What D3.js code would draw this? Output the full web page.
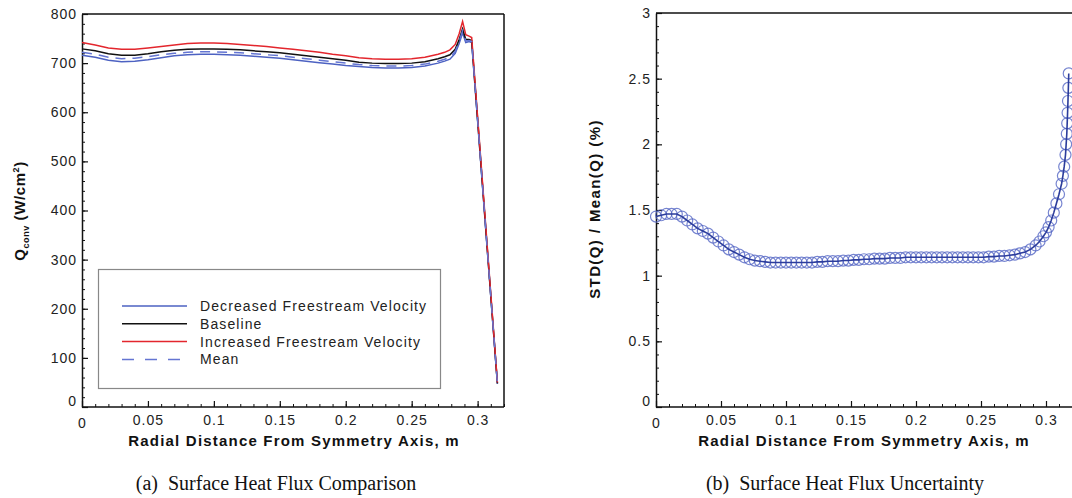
<!DOCTYPE html>
<html>
<head>
<meta charset="utf-8">
<script src="https://cdn.jsdelivr.net/npm/d3@7"></script>
<style>
  body { margin: 0; background: #fff; }
  svg { display: block; font-family: "Liberation Sans", Arial, sans-serif; }
  .tick text { font-size: 14px; fill: #222; letter-spacing: 1px; }
  .axis path, .axis line { stroke: #111; }
  .axis-title { font-size: 15px; font-weight: bold; fill: #111; letter-spacing: 1.2px; }
  .caption { font-family: "Liberation Serif", "Times New Roman", serif; font-size: 20px; fill: #111; }
  .legend text { font-size: 14px; fill: #222; letter-spacing: 1.1px; }
</style>
</head>
<body>
<svg id="chart" width="1072" height="498"></svg>
<script>
// (a) surface heat flux, W/cm^2
var xA = [0, 0.01, 0.02, 0.03, 0.04, 0.05, 0.06, 0.07, 0.08, 0.09, 0.10, 0.11, 0.12, 0.13, 0.14, 0.15, 0.16, 0.17, 0.18, 0.19, 0.20,
  0.21, 0.22, 0.23, 0.24, 0.25, 0.26, 0.27, 0.275, 0.279, 0.283, 0.286, 0.2886, 0.291, 0.2935, 0.2955, 0.300, 0.305, 0.310, 0.315];
var qDecreased = [716, 712, 706, 703, 704, 707, 711, 715, 717, 718, 718, 717, 716, 714, 712, 710, 707, 704, 701, 698, 695,
  693, 691, 690, 690, 691, 694, 700, 704, 708, 720, 740, 762, 742, 744, 742, 582, 402, 224, 47];
var qBaseline = [729, 725, 719, 716, 716, 719, 723, 726, 728, 729, 729, 728, 727, 725, 723, 721, 718, 715, 712, 709, 706,
  702, 700, 699, 699, 700, 703, 709, 713, 717, 728, 748, 770, 748, 748, 746, 585, 405, 226, 48];
var qIncreased = [742, 737, 731, 728, 728, 731, 734, 737, 740, 741, 741, 740, 738, 736, 734, 731, 728, 725, 722, 718, 715,
  711, 709, 708, 708, 709, 712, 718, 722, 727, 738, 760, 785, 758, 755, 752, 590, 410, 230, 50];
var qMean = [722, 718, 712, 709, 710, 713, 717, 720, 722, 723, 723, 722, 721, 719, 717, 715, 712, 709, 706, 703, 700,
  697, 695, 694, 694, 695, 698, 704, 708, 712, 724, 744, 766, 745, 746, 744, 584, 404, 225, 48];

// (b) STD(Q)/Mean(Q), %
var xB = [0, 0.004, 0.008, 0.012, 0.016, 0.020, 0.024, 0.028, 0.032, 0.036, 0.040, 0.044, 0.048, 0.052, 0.056, 0.060,
  0.064, 0.068, 0.072, 0.076, 0.080, 0.084, 0.088, 0.092, 0.096, 0.100, 0.104, 0.108, 0.112, 0.116, 0.120,
  0.124, 0.128, 0.132, 0.136, 0.140, 0.144, 0.148, 0.152, 0.156, 0.160, 0.164, 0.168, 0.172, 0.176, 0.180,
  0.184, 0.188, 0.192, 0.196, 0.200, 0.204, 0.208, 0.212, 0.216, 0.220, 0.224, 0.228, 0.232, 0.236, 0.240,
  0.244, 0.248, 0.252, 0.256, 0.260, 0.264, 0.268, 0.272, 0.276, 0.280,
  0.284, 0.288, 0.292, 0.295, 0.298, 0.300, 0.302, 0.304, 0.306, 0.308, 0.310, 0.312, 0.313, 0.314, 0.315,
  0.3155, 0.316, 0.3163, 0.3166, 0.3169, 0.3172, 0.3175];
var stdRatio = [1.45, 1.46, 1.47, 1.47, 1.47, 1.45, 1.42, 1.39, 1.36, 1.34, 1.32, 1.29, 1.26, 1.23, 1.20, 1.18,
  1.16, 1.14, 1.125, 1.115, 1.11, 1.105, 1.10, 1.10, 1.10, 1.10, 1.10, 1.10, 1.10, 1.10, 1.10,
  1.105, 1.105, 1.11, 1.11, 1.11, 1.115, 1.115, 1.12, 1.12, 1.125, 1.125, 1.13, 1.13, 1.13, 1.135,
  1.135, 1.135, 1.14, 1.14, 1.14, 1.14, 1.14, 1.14, 1.14, 1.14, 1.14, 1.14, 1.14, 1.14, 1.14,
  1.14, 1.14, 1.14, 1.145, 1.145, 1.15, 1.15, 1.155, 1.16, 1.17,
  1.18, 1.20, 1.23, 1.26, 1.30, 1.33, 1.37, 1.42, 1.48, 1.55, 1.62, 1.70, 1.76, 1.83, 1.92,
  2.00, 2.08, 2.16, 2.24, 2.33, 2.43, 2.54];

var xTicks = [0, 0.05, 0.1, 0.15, 0.2, 0.25, 0.3];
var yTicksA = [0, 100, 200, 300, 400, 500, 600, 700, 800];
var yTicksB = [0, 0.5, 1, 1.5, 2, 2.5, 3];

var seriesA = [
  { name: "Decreased Freestream Velocity", values: qDecreased, color: "#4d62c2", dash: null },
  { name: "Baseline", values: qBaseline, color: "#111111", dash: null },
  { name: "Increased Freestream Velocity", values: qIncreased, color: "#e3262d", dash: null },
  { name: "Mean", values: qMean, color: "#6475d2", dash: "10,7" }
];

var svg = d3.select( "#chart" );
svg.append( "rect" ).attr( "width", 1072 ).attr( "height", 498 ).attr( "fill", "#fff" );

function minorTicks( lo, hi, step ) {
  // tick positions between lo and hi (not a data series)
  var out = [], n = Math.round( ( hi - lo ) / step );
  for ( var i = 0; i <= n; i++ ) out.push( +( lo + i * step ).toFixed( 6 ) );
  return out;
}

function drawAxes( g, x, y, yTicks, yMinorStep, xEnd ) {
  var fmt = d3.format( "~g" );
  var x0 = x.range()[ 0 ], y0 = y.range()[ 0 ], yTop = y.range()[ 1 ];

  // frame: top + right
  g.append( "line" ).attr( "x1", x0 ).attr( "x2", xEnd ).attr( "y1", yTop ).attr( "y2", yTop )
    .attr( "stroke", "#111" ).attr( "stroke-width", 1.5 );
  g.append( "line" ).attr( "x1", xEnd ).attr( "x2", xEnd ).attr( "y1", yTop ).attr( "y2", y0 )
    .attr( "stroke", "#111" ).attr( "stroke-width", 1.5 );

  g.append( "g" ).attr( "class", "axis" ).attr( "transform", "translate(0," + y0 + ")" )
    .call( d3.axisBottom( x ).tickValues( minorTicks( 0, 0.32, 0.01 ) ).tickFormat( "" ).tickSizeInner( -3 ).tickSizeOuter( 0 ) )
    .select( ".domain" ).remove();

  g.append( "g" ).attr( "class", "axis" ).attr( "transform", "translate(" + x0 + ",0)" )
    .call( d3.axisLeft( y ).tickValues( minorTicks( y.domain()[ 0 ], y.domain()[ 1 ], yMinorStep ) ).tickFormat( "" ).tickSizeInner( -3 ).tickSizeOuter( 0 ) )
    .select( ".domain" ).remove();

  var xa = g.append( "g" ).attr( "class", "axis" ).attr( "transform", "translate(0," + y0 + ")" )
    .call( d3.axisBottom( x ).tickValues( xTicks ).tickFormat( fmt ).tickSizeInner( -6 ).tickSizeOuter( 0 ).tickPadding( 8 ) );
  xa.select( ".domain" ).attr( "stroke-width", 1.5 ).attr( "d", "M" + x0 + ",0H" + xEnd );
  xa.selectAll( "line" ).attr( "stroke-width", 1.2 );

  var ya = g.append( "g" ).attr( "class", "axis" ).attr( "transform", "translate(" + x0 + ",0)" )
    .call( d3.axisLeft( y ).tickValues( yTicks ).tickFormat( fmt ).tickSizeInner( -6 ).tickSizeOuter( 0 ).tickPadding( 5 ) );
  ya.select( ".domain" ).attr( "stroke-width", 1.5 );
  ya.selectAll( "line" ).attr( "stroke-width", 1.2 );
  ya.selectAll( ".tick" ).filter( function( d ) { return d === 0; } ).select( "text" ).attr( "dy", "-0.1em" );
  xa.selectAll( ".tick" ).filter( function( d ) { return d === 0; } ).select( "text" ).attr( "dy", "0.9em" );
}

function drawChartA() {
  var g = svg.append( "g" );
  var x = d3.scaleLinear().domain( [ 0, 0.32 ] ).range( [ 82, 504 ] );
  var y = d3.scaleLinear().domain( [ 0, 800 ] ).range( [ 407, 14 ] );

  drawAxes( g, x, y, yTicksA, 20, 504 );

  var line = d3.line().x( function( d ) { return x( d[ 0 ] ); } ).y( function( d ) { return y( d[ 1 ] ); } );
  seriesA.forEach( function( s ) {
    g.append( "path" )
      .datum( d3.zip( xA, s.values ) )
      .attr( "d", line )
      .attr( "fill", "none" )
      .attr( "stroke", s.color )
      .attr( "stroke-width", 1.5 )
      .attr( "stroke-dasharray", s.dash );
  });

  // legend
  var lg = g.append( "g" ).attr( "class", "legend" );
  lg.append( "rect" ).attr( "x", 98.5 ).attr( "y", 269.5 ).attr( "width", 342 ).attr( "height", 119 )
    .attr( "fill", "#fff" ).attr( "stroke", "#888" ).attr( "stroke-width", 1.2 );
  seriesA.forEach( function( s, i ) {
    var ly = 306 + i * 17.8;
    lg.append( "line" ).attr( "x1", 122 ).attr( "x2", 187 ).attr( "y1", ly ).attr( "y2", ly )
      .attr( "stroke", s.color ).attr( "stroke-width", 1.5 ).attr( "stroke-dasharray", s.dash ? "12,11" : null );
    lg.append( "text" ).attr( "x", 200 ).attr( "y", ly ).attr( "dy", "0.36em" ).text( s.name );
  });

  g.append( "text" ).attr( "class", "axis-title" ).attr( "x", 294 ).attr( "y", 446 )
    .attr( "text-anchor", "middle" ).text( "Radial Distance From Symmetry Axis, m" );

  var yt = g.append( "text" ).attr( "class", "axis-title" ).attr( "text-anchor", "middle" )
    .style( "letter-spacing", "0.6px" )
    .attr( "transform", "translate(25,211) rotate(-90)" );
  yt.append( "tspan" ).text( "Q" );
  yt.append( "tspan" ).attr( "font-size", "9px" ).attr( "dy", 4 ).text( "conv" );
  yt.append( "tspan" ).attr( "dy", -4 ).text( " (W/cm" );
  yt.append( "tspan" ).attr( "font-size", "9px" ).attr( "dy", -6 ).text( "2" );
  yt.append( "tspan" ).attr( "dy", 6 ).text( ")" );

  g.append( "text" ).attr( "class", "caption" ).attr( "x", 276 ).attr( "y", 490 )
    .attr( "text-anchor", "middle" ).attr( "xml:space", "preserve" ).text( "(a)  Surface Heat Flux Comparison" );
}

function drawChartB() {
  var g = svg.append( "g" );
  var x = d3.scaleLinear().domain( [ 0, 0.32 ] ).range( [ 656, 1072 ] );
  var y = d3.scaleLinear().domain( [ 0, 3 ] ).range( [ 407, 13 ] );

  drawAxes( g, x, y, yTicksB, 0.1, 1074 );

  var pts = d3.zip( xB, stdRatio );
  var line = d3.line().x( function( d ) { return x( d[ 0 ] ); } ).y( function( d ) { return y( d[ 1 ] ); } );

  g.append( "g" ).selectAll( "circle" ).data( pts ).enter().append( "circle" )
    .attr( "cx", function( d ) { return x( d[ 0 ] ); } )
    .attr( "cy", function( d ) { return y( d[ 1 ] ); } )
    .attr( "r", 5.5 )
    .attr( "fill", "none" )
    .attr( "stroke", "#5566c4" )
    .attr( "stroke-opacity", 0.8 )
    .attr( "stroke-width", 1.2 );

  g.append( "path" ).datum( pts ).attr( "d", line )
    .attr( "fill", "none" ).attr( "stroke", "#2c3d9c" ).attr( "stroke-width", 1.6 );

  g.append( "text" ).attr( "class", "axis-title" ).attr( "x", 864 ).attr( "y", 446 )
    .attr( "text-anchor", "middle" ).text( "Radial Distance From Symmetry Axis, m" );

  g.append( "text" ).attr( "class", "axis-title" ).attr( "text-anchor", "middle" )
    .style( "letter-spacing", "1.4px" )
    .attr( "transform", "translate(600,209) rotate(-90)" ).text( "STD(Q) / Mean(Q) (%)" );

  g.append( "text" ).attr( "class", "caption" ).attr( "x", 845 ).attr( "y", 490 )
    .attr( "text-anchor", "middle" ).attr( "xml:space", "preserve" ).text( "(b)  Surface Heat Flux Uncertainty" );
}

drawChartA();
drawChartB();
</script>
</body>
</html>
